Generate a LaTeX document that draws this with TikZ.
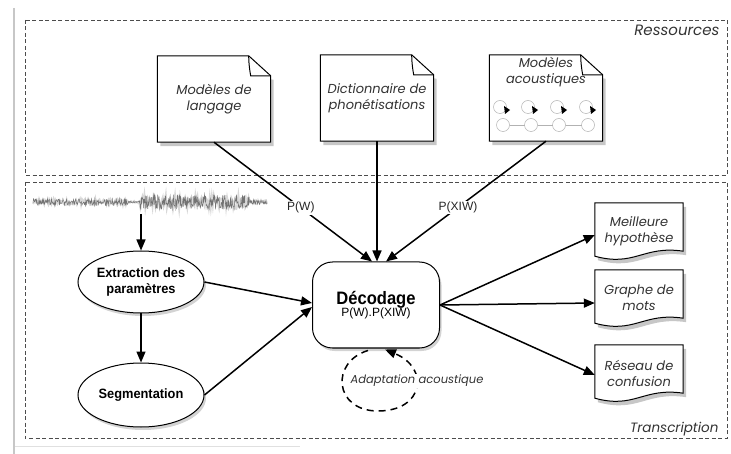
\documentclass[tikz,border=0pt]{standalone}
\usepackage{fontspec}
\setmainfont{Liberation Sans}
\newfontfamily\gothic{Poppins}
\newfontfamily\condb{Liberation Sans}[FakeStretch=0.95]
\newfontfamily\condd{Liberation Sans}[FakeStretch=0.92]
\usetikzlibrary{arrows.meta,shadows,calc,shapes.geometric,backgrounds}

\begin{document}
\begin{tikzpicture}[x=1pt,y=-1pt,
  frame/.style={draw=black!70, line width=0.9pt, dash pattern=on 4pt off 2.5pt},
  conn/.style={line width=1.5pt, -{Triangle[length=11pt,width=9pt]}},
  lab/.style={font=\gothic\itshape\fontsize{13}{16}\selectfont, text=black!80, align=center},
  docnode/.style={minimum width=113pt, minimum height=86pt, inner sep=0pt, lab},
  outnode/.style={minimum width=88pt, minimum height=56pt, inner sep=0pt, lab},
  proc/.style={draw, line width=1pt, ellipse, fill=white, minimum width=126pt, minimum height=62pt,
    inner sep=0pt, font=\condb\bfseries\fontsize{13.5}{16.5}\selectfont, align=center,
    drop shadow={opacity=0.35, shadow xshift=2pt, shadow yshift=-3pt}},
  decbox/.style={draw, line width=1pt, rounded corners=20pt, fill=white, minimum width=127pt,
    minimum height=86pt, inner sep=0pt, align=center,
    drop shadow={opacity=0.35, shadow xshift=2pt, shadow yshift=-3pt}},
  plab/.style={fill=white, inner sep=1.2pt, font=\fontsize{12}{14}\selectfont, text=black!85},
  outline/.style={draw, line width=1pt, fill=white},
  shade/.style={fill=black, opacity=0.22}
]
\useasboundingbox (0,0) rectangle (731,454);

% page margin line
\draw[black!22, line width=2.5pt] (14,8) -- (14,454);
\draw[black!12, line width=1pt] (15,446) -- (300,446);

% frames
\draw[frame] (25,20) rectangle (727,175);
\draw[frame] (25,182) rectangle (727,438);
\node[lab, anchor=east, font=\gothic\itshape\fontsize{15}{17}\selectfont] (res) at (723,30) {Ressources};
\node[lab, anchor=east, font=\gothic\itshape\fontsize{13.5}{16}\selectfont] (tra) at (722,429) {Transcription};

% resource documents
\node[docnode] (lm) at (214,99) {Modèles de\\langage};
\node[docnode] (dict) at (377,98) {Dictionnaire de\\phonétisations};
\node[docnode] (am) at (546,98) {};
\node[lab] (amt) at (546,72) {Modèles\\acoustiques};

% outputs
\node[outnode] (out1) at (639,231) {Meilleure\\hypothèse};
\node[outnode] (out2) at (639,298) {Graphe de\\mots};
\node[outnode] (out3) at (639,373) {Réseau de\\confusion};

\begin{scope}[on background layer]
\foreach \d in {lm,dict,am}{
  \fill[shade] ($(\d.north west)+(3,4)$) -- ($(\d.north east)+(3,24)$) -- ($(\d.south east)+(3,4)$) -- ($(\d.south west)+(3,4)$) -- cycle;
  \draw[outline] (\d.north west) -- ($(\d.north east)+(-22,0)$) -- ($(\d.north east)+(0,20)$) -- (\d.south east) -- (\d.south west) -- cycle;
  \draw[line width=1pt] ($(\d.north east)+(-22,0)$) .. controls ($(\d.north east)+(-22,10)$) and ($(\d.north east)+(-20,20)$) .. ($(\d.north east)+(-20,20)$) -- ($(\d.north east)+(0,20)$);
}
\foreach \o in {out1,out2,out3}{
  \fill[shade] ($(\o.north west)+(3,4)$) -- ($(\o.north east)+(3,4)$) -- ($(\o.south east)+(3,-4)$)
     .. controls ($(\o.south east)+(-37,-10)$) and ($(\o.south west)+(43,12)$) .. ($(\o.south west)+(3,1)$) -- cycle;
  \draw[outline] (\o.north west) -- (\o.north east) -- ($(\o.south east)+(0,-8)$)
     .. controls ($(\o.south east)+(-40,-14)$) and ($(\o.south west)+(40,8)$) .. ($(\o.south west)+(0,-3)$) -- cycle;
}
\end{scope}

% HMM sketch
\foreach \x/\u in {503/500,531/528,559/557,588/586}{
  \draw[black!30, line width=0.5pt] (\u,107) circle (6.5pt);
  \draw[black!30, line width=0.5pt, fill=white] (\x,125) circle (6.5pt);
  \fill[black] (\u+4,106) -- (\u+10,110) -- (\u+5,114) -- cycle;
}
\foreach \a/\b in {503/531,531/559,559/588}{
  \draw[black!30, line width=0.5pt] (\a+6.5,125) -- (\b-6.5,125);
}

% waveform
\pgfmathsetseed{4242}
\draw[black!30, line width=2pt, opacity=0.5] plot[domain=33:267, samples=230]
  (\x, {202 + ((\x<128)*3 + (\x>=128)*(\x<140)*1 + (\x>=140)*(\x<250)*7 + (\x>=250)*2)*rand});
\draw[black!55, line width=0.5pt] plot[domain=33:267, samples=470]
  (\x, {202 + ((\x<128)*3.5 + (\x>=128)*(\x<140)*1 + (\x>=140)*(\x<250)*7.5 + (\x>=250)*2.5)*rand});
\coordinate (wave) at (141,214);

% processes
\node[proc] (ext) at (141,282) {Extraction des\\paramètres};
\node[proc, minimum height=64pt] (seg) at (141,395) {Segmentation};
\node[decbox] (dec) at (376,305) {{\condd\bfseries\fontsize{18}{20}\selectfont Décodage}\\[-1pt]{\fontsize{12}{14}\selectfont P(W).P(XIW)}};

% connectors
\draw[conn] (lm.south) -- node[plab, pos=0.55] (pw) {P(W)} ($(dec.north)+(-4,0)$);
\draw[conn] (dict.south) -- (dict.south |- dec.north);
\draw[conn] (am.south) -- node[plab, pos=0.55] (pxw) {P(XIW)} ($(dec.north)+(10,0)$);
\draw[conn] (wave) -- (ext.north);
\draw[conn] (ext.south) -- (seg.north);
\draw[conn] (ext.east) -- ($(dec.west)+(0,-2)$);
\draw[conn] (seg.east) -- ($(dec.west)+(0,2)$);
\draw[conn] (dec.east) -- ($(out1.west)+(0,4)$);
\draw[conn] (dec.east) -- ($(out2.west)+(0,5)$);
\draw[conn] (dec.east) -- ($(out3.west)+(0,2)$);

% adaptation loop
\draw[line width=1.5pt, dash pattern=on 7pt off 5pt, -{Triangle[length=11pt,width=9pt]}]
  ($(dec.south)+(-8,2)$) .. controls (330,362) and (334,411) .. (378,411)
  .. controls (424,411) and (430,368) .. ($(dec.south)+(9,1)$);
\node[lab, fill=white, inner sep=1pt, font=\gothic\itshape\fontsize{11.5}{14}\selectfont] (adapt) at (417,381) {Adaptation acoustique};
\end{tikzpicture}
\end{document}
